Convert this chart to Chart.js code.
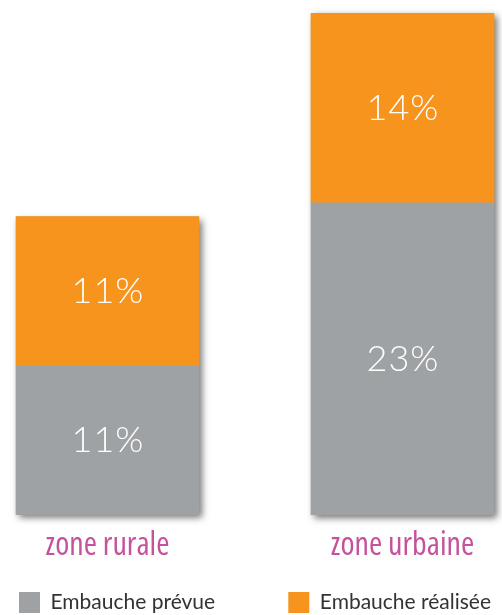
<!DOCTYPE html>
<html>
<head>
<meta charset="utf-8">
<script src="https://cdn.jsdelivr.net/npm/chart.js@4"></script>
<style>
html,body{margin:0;padding:0;background:#fff;overflow:hidden;width:502px;height:615px;}
#c{position:absolute;left:-40px;top:0;}
</style>
</head>
<body>
<canvas id="c" width="590" height="623"></canvas>
<script>
const categories = ['zone rurale', 'zone urbaine'];
const seriesNames = ['Embauche prévue', 'Embauche réalisée'];
const prevue = [11, 23];
const realisee = [11, 14];

const colGray = '#9fa2a5';
const colOrange = '#f7941e';
const legendFont = {family: 'Lato, "Noto Sans", sans-serif', size: 21};

const shadowPlugin = {
  id: 'barShadow',
  beforeDatasetsDraw(chart) {
    const ctx = chart.ctx;
    const metas = chart.getSortedVisibleDatasetMetas();
    if (!metas.length) return;
    const n = metas[0].data.length;
    for (let i = 0; i < n; i++) {
      let top = Infinity, bottom = -Infinity, x = 0, w = 0;
      metas.forEach(m => {
        const el = m.data[i];
        if (!el) return;
        const p = el.getProps(['x', 'y', 'base', 'width'], true);
        top = Math.min(top, p.y, p.base);
        bottom = Math.max(bottom, p.y, p.base);
        x = p.x; w = p.width;
      });
      ctx.save();
      ctx.shadowColor = 'rgba(0,0,0,0.55)';
      ctx.shadowBlur = 7;
      ctx.shadowOffsetX = 3;
      ctx.shadowOffsetY = 3;
      ctx.fillStyle = colGray;
      ctx.fillRect(x - w / 2, top, w, bottom - top);
      ctx.restore();
    }
  }
};

const valueLabels = {
  id: 'valueLabels',
  afterDatasetsDraw(chart) {
    const ctx = chart.ctx;
    ctx.save();
    ctx.fillStyle = '#ffffff';
    ctx.font = '300 36px Lato, "Open Sans", sans-serif';
    if ('letterSpacing' in ctx) ctx.letterSpacing = '1px';
    ctx.textAlign = 'center';
    ctx.textBaseline = 'middle';
    chart.getSortedVisibleDatasetMetas().forEach(m => {
      const ds = chart.data.datasets[m.index];
      m.data.forEach((el, i) => {
        const p = el.getProps(['x', 'y', 'base'], true);
        ctx.fillText(ds.data[i] + '%', p.x + 0.5, (p.y + p.base) / 2);
      });
    });
    ctx.restore();
  }
};

new Chart(document.getElementById('c'), {
  type: 'bar',
  data: {
    labels: categories,
    datasets: [
      {label: seriesNames[0], data: prevue, backgroundColor: colGray, borderWidth: 0},
      {label: seriesNames[1], data: realisee, backgroundColor: colOrange, borderWidth: 0}
    ]
  },
  options: {
    responsive: false,
    animation: false,
    devicePixelRatio: 1,
    layout: {padding: {top: 13, bottom: 0, left: 0, right: 0}},
    datasets: {bar: {barThickness: 183}},
    scales: {
      x: {
        stacked: true,
        offset: true,
        grid: {display: false, drawTicks: false},
        border: {display: false},
        afterFit(scale) { scale.height = 63; },
        ticks: {
          color: '#c4529c',
          padding: 12,
          font: {family: '"Open Sans", "Roboto Condensed", sans-serif', size: 32, weight: 'condensed'}
        }
      },
      y: {
        stacked: true,
        display: false,
        min: 0,
        max: 37
      }
    },
    plugins: {
      tooltip: {enabled: false},
      legend: {
        position: 'bottom',
        labels: {
          boxWidth: 21,
          boxHeight: 21,
          padding: 14,
          color: '#333333',
          font: legendFont,
          generateLabels(chart) {
            const items = Chart.defaults.plugins.legend.labels.generateLabels(chart);
            const ctx = chart.ctx;
            ctx.save();
            ctx.font = legendFont.size + 'px ' + legendFont.family;
            let t = items[0].text;
            while (ctx.measureText(t).width < 222) t += ' ';
            ctx.restore();
            items[0].text = t;
            items.forEach(it => { it.lineWidth = 0; it.strokeStyle = 'rgba(0,0,0,0)'; });
            return items;
          }
        }
      }
    }
  },
  plugins: [shadowPlugin, valueLabels]
});
</script>
</body>
</html>
